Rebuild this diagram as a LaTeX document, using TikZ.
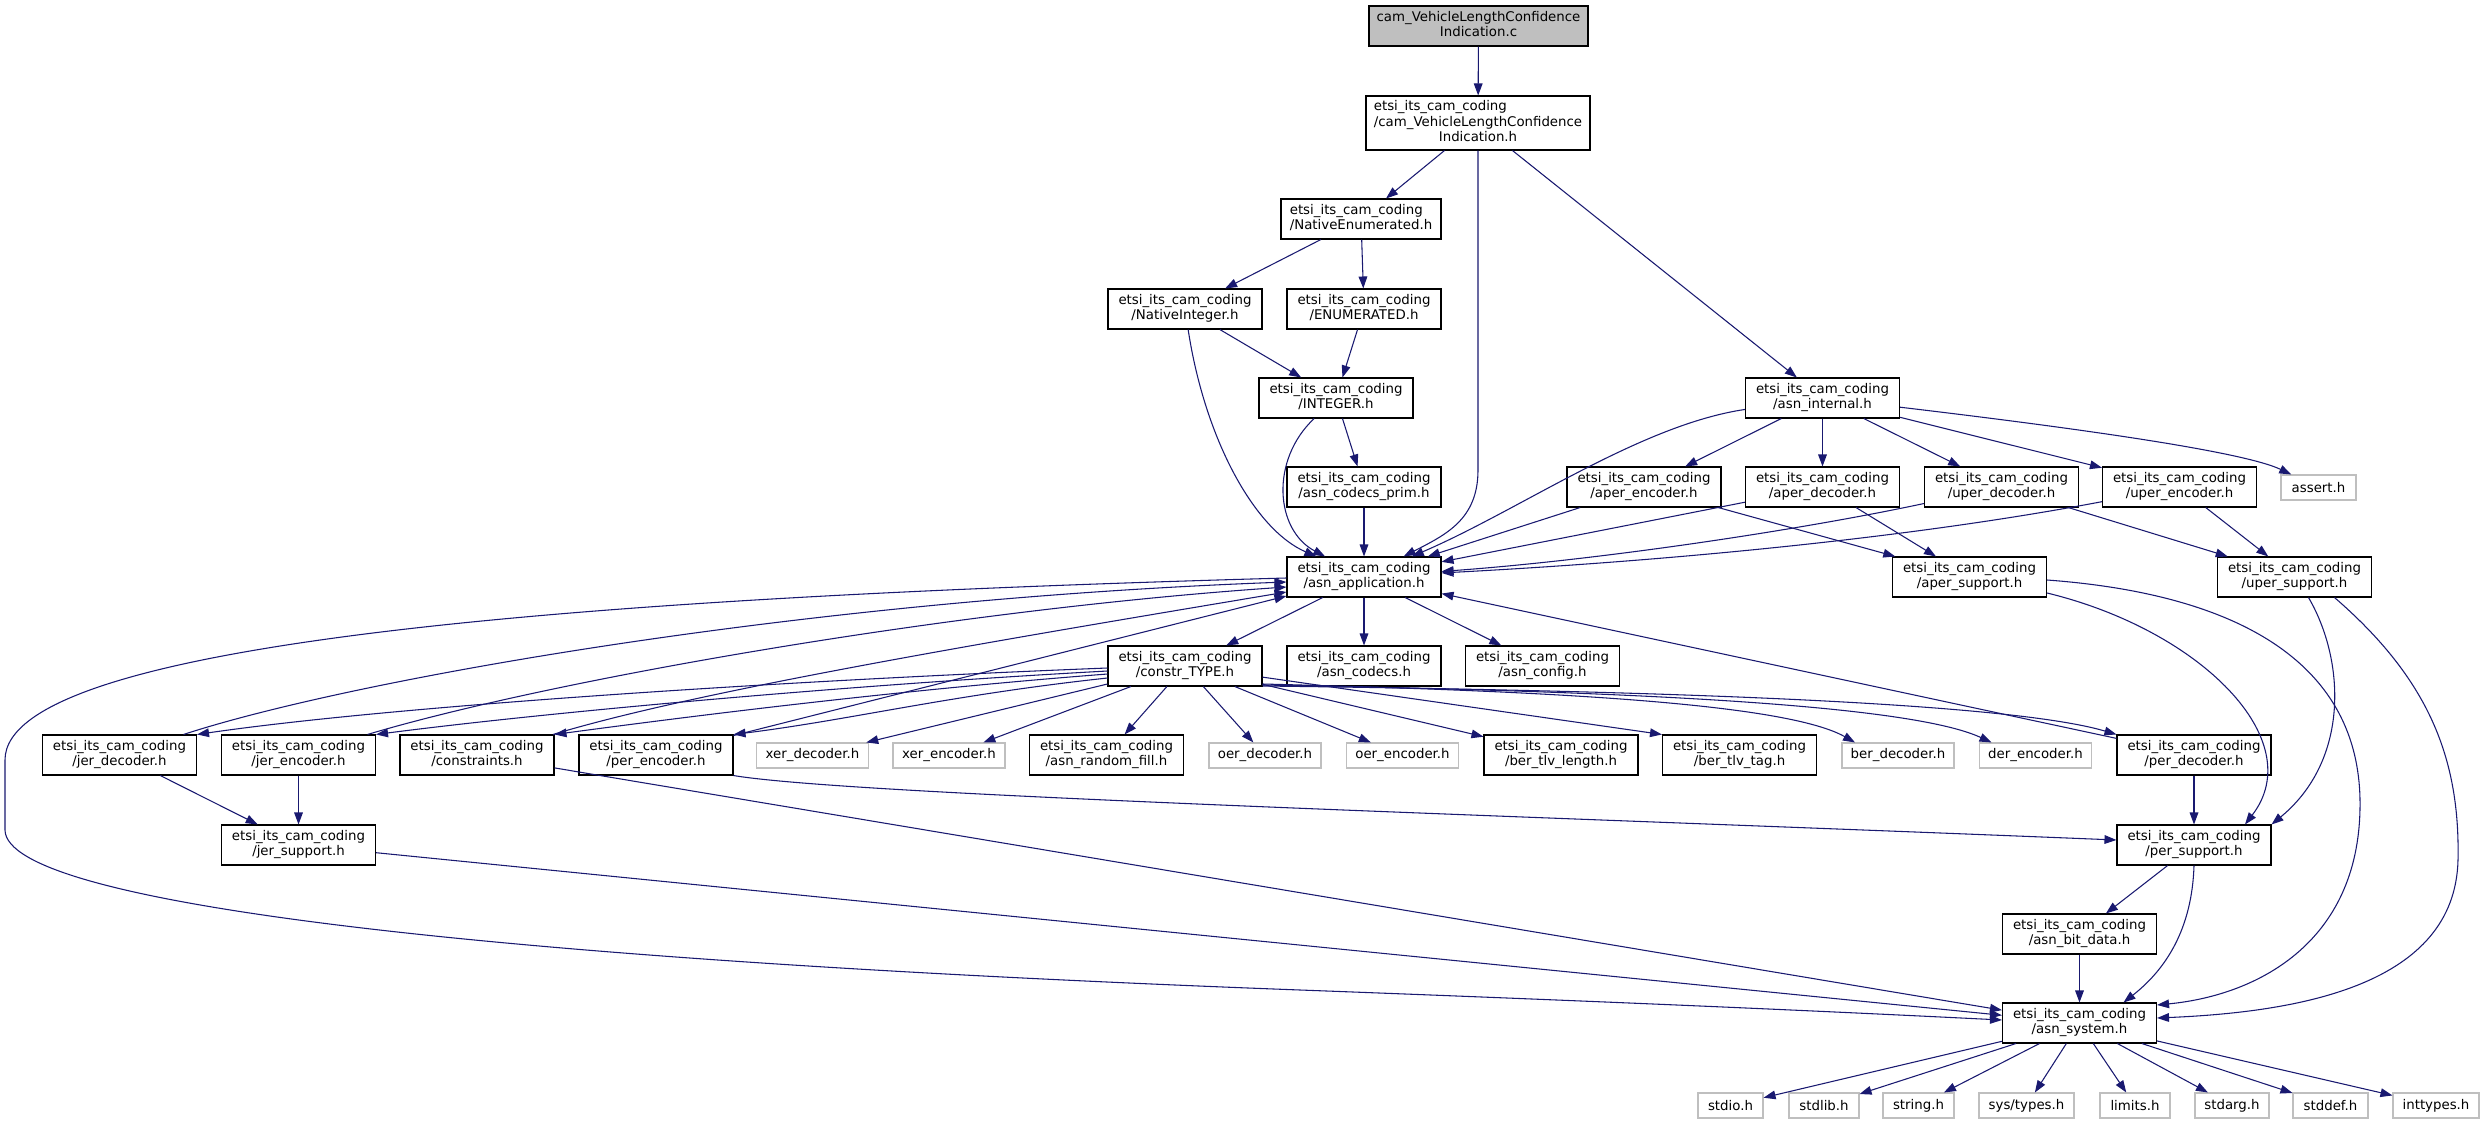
\documentclass[tikz,border=0pt]{standalone}
\usepackage{fontspec}
\setmainfont{DejaVu Sans}
\usetikzlibrary{arrows.meta,calc}
\definecolor{edgecol}{HTML}{191970}
\definecolor{gboxcol}{HTML}{BFBFBF}
\definecolor{topfill}{HTML}{BFBFBF}
\newcommand\dfont{\fontsize{10}{11.5}\selectfont}
\newcommand\lab[2]{\begin{tabular}{@{}l@{}}#1\\\multicolumn{1}{@{}c@{}}{#2}\end{tabular}}
\newcommand\labc[3]{\begin{tabular}{@{}l@{}}#1\\#2\\\multicolumn{1}{@{}c@{}}{#3}\end{tabular}}
\newcommand\etsi{etsi\_its\_cam\_coding}
\tikzset{
  box/.style={draw=black, fill=white, line width=0.8pt, inner sep=0pt,
    minimum width=115.5pt, minimum height=30pt, font=\dfont, align=center},
  gbox/.style={draw=gboxcol, fill=white, line width=0.8pt, inner sep=0pt,
    minimum height=18.75pt, font=\dfont},
  edge/.style={draw=edgecol, line width=0.8pt, -{Triangle[length=9pt,width=6.5pt]}}
}
\begin{document}
\begin{tikzpicture}[x=0.75pt, y=-0.75pt]
\useasboundingbox (0,0) rectangle (2485,1124);
% nodes
\node[box, fill=topfill, minimum width=164.25pt] (c) at (1478.5,26) {\lab{cam\_VehicleLengthConfidence}{Indication.c}};
\node[box, minimum width=168pt, minimum height=40.5pt] (vlci) at (1478,123) {\labc{\etsi}{/cam\_VehicleLengthConfidence}{Indication.h}};
\node[box, minimum width=120pt] (nenum) at (1361,219) {\lab{\etsi}{/NativeEnumerated.h}};
\node[box] (nint) at (1185,309) {\lab{\etsi}{/NativeInteger.h}};
\node[box] (enumh) at (1364,309) {\lab{\etsi}{/ENUMERATED.h}};
\node[box] (integer) at (1336,398) {\lab{\etsi}{/INTEGER.h}};
\node[box] (asnint) at (1822.5,398) {\lab{\etsi}{/asn\_internal.h}};
\node[box] (prim) at (1364,487) {\lab{\etsi}{/asn\_codecs\_prim.h}};
\node[box] (apenc) at (1644,487) {\lab{\etsi}{/aper\_encoder.h}};
\node[box] (apdec) at (1822.5,487) {\lab{\etsi}{/aper\_decoder.h}};
\node[box] (updec) at (2001.5,487) {\lab{\etsi}{/uper\_decoder.h}};
\node[box] (upenc) at (2179.5,487) {\lab{\etsi}{/uper\_encoder.h}};
\node[gbox, minimum width=56.25pt] (assert) at (2318.5,487.5) {assert.h};
\node[box] (asnapp) at (1364,577) {\lab{\etsi}{/asn\_application.h}};
\node[box] (apsup) at (1969.5,577) {\lab{\etsi}{/aper\_support.h}};
\node[box] (upsup) at (2294.5,577) {\lab{\etsi}{/uper\_support.h}};
\node[box] (ctype) at (1185,666) {\lab{\etsi}{/constr\_TYPE.h}};
\node[box] (codecs) at (1364,666) {\lab{\etsi}{/asn\_codecs.h}};
\node[box] (config) at (1542.5,666) {\lab{\etsi}{/asn\_config.h}};
\node[box] (jerdec) at (119.5,755) {\lab{\etsi}{/jer\_decoder.h}};
\node[box] (jerenc) at (298.5,755) {\lab{\etsi}{/jer\_encoder.h}};
\node[box] (constr) at (477,755) {\lab{\etsi}{/constraints.h}};
\node[box] (perenc) at (656,755) {\lab{\etsi}{/per\_encoder.h}};
\node[gbox, minimum width=84pt] (xerdec) at (812.5,755.5) {xer\_decoder.h};
\node[gbox, minimum width=84pt] (xerenc) at (949,755.5) {xer\_encoder.h};
\node[box] (randfill) at (1106.5,755) {\lab{\etsi}{/asn\_random\_fill.h}};
\node[gbox, minimum width=84pt] (oerdec) at (1265,755.5) {oer\_decoder.h};
\node[gbox, minimum width=84pt] (oerenc) at (1402.5,755.5) {oer\_encoder.h};
\node[box] (tlvlen) at (1561,755) {\lab{\etsi}{/ber\_tlv\_length.h}};
\node[box] (tlvtag) at (1739.5,755) {\lab{\etsi}{/ber\_tlv\_tag.h}};
\node[gbox, minimum width=84pt] (berdec) at (1898,755.5) {ber\_decoder.h};
\node[gbox, minimum width=84pt] (derenc) at (2035.5,755.5) {der\_encoder.h};
\node[box] (perdec) at (2194,755) {\lab{\etsi}{/per\_decoder.h}};
\node[box] (jersup) at (298.5,845) {\lab{\etsi}{/jer\_support.h}};
\node[box] (persup) at (2194,845) {\lab{\etsi}{/per\_support.h}};
\node[box] (bitdata) at (2079.5,934) {\lab{\etsi}{/asn\_bit\_data.h}};
\node[box] (asnsys) at (2079.5,1023) {\lab{\etsi}{/asn\_system.h}};
\node[gbox, minimum width=48.75pt] (stdio) at (1730.5,1105.5) {stdio.h};
\node[gbox, minimum width=52.5pt] (stdlib) at (1824,1105.5) {stdlib.h};
\node[gbox, minimum width=53.25pt] (string) at (1918.5,1105.5) {string.h};
\node[gbox, minimum width=71.25pt] (systypes) at (2026.5,1105.5) {sys/types.h};
\node[gbox, minimum width=52.5pt] (limits) at (2135,1105.5) {limits.h};
\node[gbox, minimum width=55.5pt] (stdarg) at (2232,1105.5) {stdarg.h};
\node[gbox, minimum width=56.25pt] (stddef) at (2330.5,1105.5) {stddef.h};
\node[gbox, minimum width=64.5pt] (inttypes) at (2436,1105.5) {inttypes.h};
% edges
\draw[edge] (c) -- (vlci);
\draw[edge] (vlci) -- (nenum);
\draw[edge] (vlci) -- (1478,470) .. controls (1478,520) and (1445,535) .. (asnapp);
\draw[edge] (vlci) -- (asnint);
\draw[edge] (nenum) -- (nint);
\draw[edge] (nenum) -- (enumh);
\draw[edge] (nint) -- (integer);
\draw[edge] (nint) .. controls (1205,440) and (1255,530) .. (asnapp);
\draw[edge] (enumh) -- (integer);
\draw[edge] (integer) -- (prim);
\draw[edge] (integer) .. controls (1270,460) and (1275,530) .. (asnapp);
\draw[edge] (prim) -- (asnapp);
\draw[edge] (asnint) .. controls (1640,425) and (1520,510) .. (asnapp);
\draw[edge] (asnint) -- (apenc);
\draw[edge] (asnint) -- (apdec);
\draw[edge] (asnint) -- (updec);
\draw[edge] (asnint) -- (upenc);
\draw[edge] (asnint) .. controls (2050,425) and (2240,450) .. (assert);
\draw[edge] (apenc) -- (asnapp);
\draw[edge] (apenc) -- (apsup);
\draw[edge] (apdec) -- (asnapp);
\draw[edge] (apdec) -- (apsup);
\draw[edge] (updec) .. controls (1800,530) and (1600,560) .. (asnapp);
\draw[edge] (updec) -- (upsup);
\draw[edge] (upenc) .. controls (1900,540) and (1650,562) .. (asnapp);
\draw[edge] (upenc) -- (upsup);
\draw[edge] ($(apsup.east)+(0,16)$) .. controls (2200,630) and (2310,740) .. ($(persup.north)+(51,0)$);
\draw[edge] ($(apsup.east)+(0,3)$) .. controls (2250,595) and (2358,670) .. (2360,800) .. controls (2362,940) and (2260,995) .. ($(asnsys.east)+(0,-18)$);
\draw[edge] ($(upsup.south)+(14,0)$) .. controls (2345,660) and (2350,760) .. (persup.north east);
\draw[edge] ($(upsup.south)+(40,0)$) .. controls (2430,680) and (2460,760) .. (2458,860) .. controls (2455,985) and (2300,1012) .. ($(asnsys.east)+(0,-5)$);
\draw[edge] (perdec) -- (asnapp);
\draw[edge] (perdec) -- (persup);
\draw[edge] (persup) -- (bitdata);
\draw[edge] (persup.south) .. controls (2192,930) and (2165,970) .. ($(asnsys.north)+(44,0)$);
\draw[edge] (bitdata) -- (asnsys);
\foreach \t in {stdio,stdlib,string,systypes,limits,stdarg,stddef,inttypes}
  \draw[edge] (asnsys) -- (\t);
\draw[edge] (asnapp) -- (ctype);
\draw[edge] (asnapp) -- (codecs);
\draw[edge] (asnapp) -- (config);
\draw[edge] ($(asnapp.west)+(0,1)$) .. controls (600,597) and (5,640) .. (5,760) -- (5,830) .. controls (6,905) and (500,960) .. (1300,990) .. controls (1700,1005) and (1900,1015) .. ($(asnsys.west)+(0,-3)$);
% constr_TYPE fan-out
\draw[edge] ($(ctype.west)+(0,2)$) .. controls (800,680) and (400,705) .. (jerdec.north east);
\draw[edge] ($(ctype.west)+(0,5)$) .. controls (850,685) and (550,712) .. (jerenc.north east);
\draw[edge] ($(ctype.west)+(0,8)$) .. controls (900,690) and (700,715) .. (constr.north east);
\draw[edge] ($(ctype.west)+(0,12)$) .. controls (950,695) and (850,720) .. (perenc.north east);
\draw[edge] ($(ctype.west)+(0,18)$) -- (xerdec);
\draw[edge] (ctype) -- (xerenc);
\draw[edge] (ctype) -- (randfill);
\draw[edge] (ctype) -- (oerdec);
\draw[edge] (ctype) -- (oerenc);
\draw[edge] (ctype) -- (tlvlen);
\draw[edge] (ctype) -- (tlvtag.north west);
\draw[edge] ($(ctype.east)+(0,18)$) .. controls (1500,690) and (1780,700) .. ($(berdec.north)+(-43,0)$);
\draw[edge] ($(ctype.east)+(0,19)$) .. controls (1550,690) and (1900,700) .. ($(derenc.north)+(-44,0)$);
\draw[edge] ($(ctype.east)+(0,20)$) .. controls (1600,690) and (2000,700) .. (perdec.north west);
% left group back to asn_application
\draw[edge] ($(jerdec.north)+(64,0)$) .. controls (350,680) and (800,600) .. ($(asnapp.west)+(0,5)$);
\draw[edge] ($(jerenc.north)+(69,0)$) .. controls (550,680) and (950,610) .. ($(asnapp.west)+(0,10)$);
\draw[edge] ($(constr.north)+(76,0)$) .. controls (700,690) and (1000,640) .. ($(asnapp.west)+(0,15)$);
\draw[edge] (perenc) -- ($(asnapp.west)+(0,19)$);
\draw[edge] (jerdec) -- (jersup);
\draw[edge] (jerenc) -- (jersup);
\draw[edge] (jersup) -- (asnsys);
\draw[edge] (constr) -- (asnsys);
\draw[edge] (perenc.south east) .. controls (850,795) and (1500,815) .. ($(persup.west)+(0,-5)$);
\end{tikzpicture}
\end{document}
